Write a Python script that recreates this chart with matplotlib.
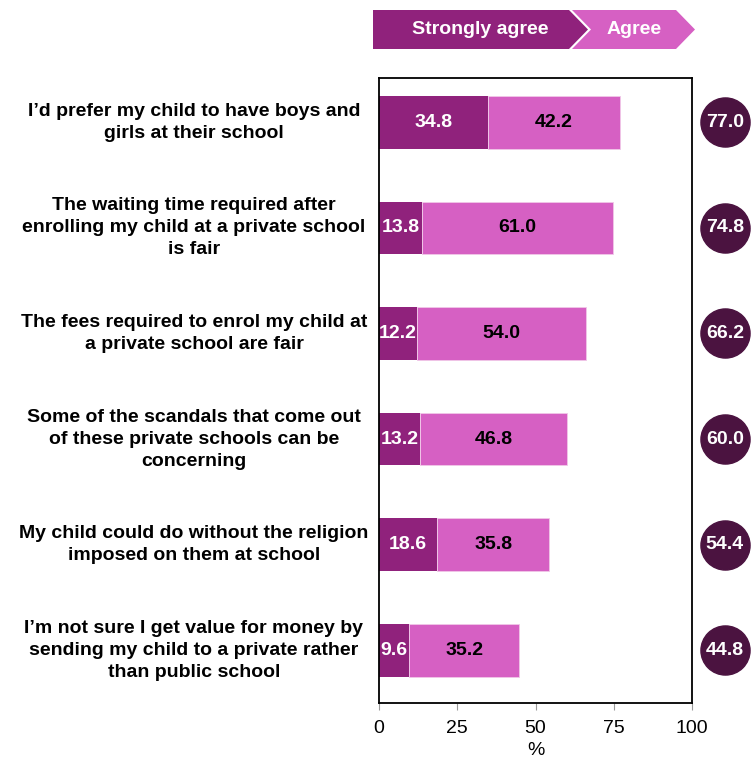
import matplotlib.pyplot as plt
from matplotlib.patches import Polygon
from matplotlib.transforms import blended_transform_factory

plt.rcParams['font.family'] = ['Liberation Sans', 'DejaVu Sans']

statements = [
    "I\u2019d prefer my child to have boys and\ngirls at their school",
    "The waiting time required after\nenrolling my child at a private school\nis fair",
    "The fees required to enrol my child at\na private school are fair",
    "Some of the scandals that come out\nof these private schools can be\nconcerning",
    "My child could do without the religion\nimposed on them at school",
    "I\u2019m not sure I get value for money by\nsending my child to a private rather\nthan public school",
]
strongly_agree = [34.8, 13.8, 12.2, 13.2, 18.6, 9.6]
agree = [42.2, 61.0, 54.0, 46.8, 35.8, 35.2]
xticks = [0, 25, 50, 75, 100]

dark = '#90227c'
light = '#d660c3'
circle_col = '#4b1340'

fig = plt.figure(figsize=(7.52, 7.61), dpi=100)
ax = fig.add_axes([379 / 752, 1 - 703 / 761, 313 / 752, 625 / 761])

rows = list(range(len(statements)))
ax.barh(rows, strongly_agree, height=0.5, color=dark, edgecolor='none')
ax.barh(rows, agree, left=strongly_agree, height=0.5, color=light,
        edgecolor='#f0c8e8', linewidth=0.6)

for i in rows:
    sa, ag = strongly_agree[i], agree[i]
    ax.text(sa / 2, i, f"{sa:.1f}", ha='center', va='center', color='white',
            fontsize=14, fontweight='bold', clip_on=False)
    ax.text(sa + ag / 2, i, f"{ag:.1f}", ha='center', va='center', color='black',
            fontsize=14, fontweight='bold')
    total = sa + ag
    ax.scatter([110.5], [i], s=1250, color=circle_col, clip_on=False, zorder=5)
    ax.text(110.5, i, f"{total:.1f}", ha='center', va='center', color='white',
            fontsize=14, fontweight='bold', zorder=6, clip_on=False)

# statement labels centred in the left margin
trans = blended_transform_factory(fig.transFigure, ax.transData)
for i, s in enumerate(statements):
    ax.text(194 / 752, i, s, transform=trans, ha='center', va='center',
            fontsize=14, fontweight='bold', linespacing=1.38)

ax.set_xlim(0, 100)
ax.set_ylim(5.5, -0.42)
ax.set_yticks([])
ax.set_xticks(xticks)
ax.set_xticklabels([str(t) for t in xticks], fontsize=14)
ax.tick_params(axis='x', length=5, color='#999999', pad=7)
for sp in ax.spines.values():
    sp.set_linewidth(1.3)
    sp.set_color('black')
ax.set_xlabel('%', fontsize=14, labelpad=4)

# chevron legend at the top
def px(x, y):
    return (x / 752, 1 - y / 761)

top, mid, bot = 10, 29.5, 49
chev1 = Polygon([px(373, top), px(569, top), px(588, mid), px(569, bot), px(373, bot)],
                closed=True, transform=fig.transFigure, facecolor=dark, edgecolor='none')
chev2 = Polygon([px(572, top), px(676, top), px(695, mid), px(676, bot), px(572, bot),
                 px(591, mid)],
                closed=True, transform=fig.transFigure, facecolor=light, edgecolor='none')
fig.patches.extend([chev1, chev2])
fig.text(*px(480, mid), "Strongly agree", ha='center', va='center', color='white',
         fontsize=14, fontweight='bold')
fig.text(*px(634, mid), "Agree", ha='center', va='center', color='white',
         fontsize=14, fontweight='bold')

fig.savefig('out.png', dpi=100)
